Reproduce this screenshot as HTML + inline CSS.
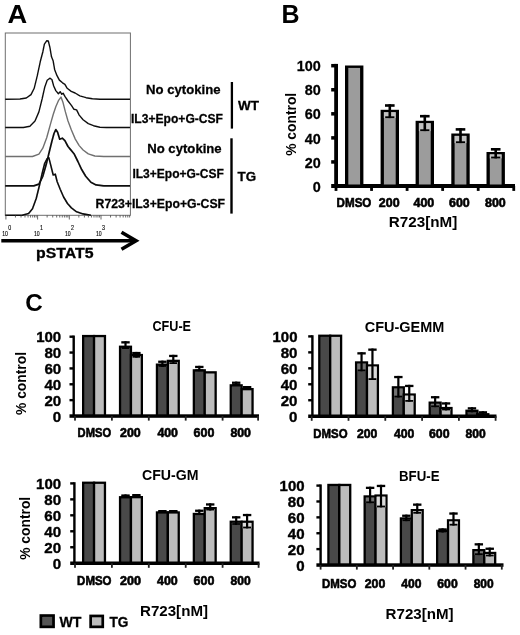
<!DOCTYPE html>
<html><head><meta charset="utf-8"><title>Figure</title>
<style>
html,body{margin:0;padding:0;background:#fff;}
svg{display:block;font-family:"Liberation Sans",sans-serif;}
</style></head><body>
<svg width="520" height="635" viewBox="0 0 520 635">
<defs><filter id="soft" x="0" y="0" width="520" height="635" filterUnits="userSpaceOnUse"><feGaussianBlur stdDeviation="0.42"/></filter></defs>
<rect width="520" height="635" fill="#fff"/>
<g filter="url(#soft)">
<text x="7.6" y="23.2" font-size="25.5" font-weight="bold" fill="#000" textLength="19.7" lengthAdjust="spacingAndGlyphs">A</text>
<text x="281.6" y="23.2" font-size="25" font-weight="bold" fill="#000">B</text>
<text x="25.3" y="310.6" font-size="23" font-weight="bold" fill="#000" textLength="17.5" lengthAdjust="spacingAndGlyphs">C</text>
<rect x="5.3" y="33.0" width="125.10000000000001" height="182.3" fill="none" stroke="#6e6e6e" stroke-width="1"/>
<polyline fill="none" stroke="#111" stroke-width="1.4" stroke-linejoin="round" points="5.2,99.2 20.0,99.0 26.3,98.0 31.0,94.6 34.2,88.3 37.3,75.7 40.5,60.7 42.8,52.0 44.4,44.2 46.8,40.7 48.3,41.0 49.9,47.3 51.5,56.8 53.1,60.7 54.6,69.4 57.0,75.7 59.4,80.1 62.5,82.8 64.9,84.3 67.2,88.3 71.2,91.4 75.1,93.0 79.8,95.8 86.1,97.7 92.4,98.7 100.0,99.2 130.0,99.2"/>
<polyline fill="none" stroke="#111" stroke-width="1.4" stroke-linejoin="round" points="5.2,127.5 23.4,127.5 29.9,126.2 35.0,121.0 38.9,111.9 42.1,99.0 44.7,87.3 47.2,80.3 49.8,78.2 51.9,79.5 53.7,86.0 55.8,90.6 58.4,93.8 60.2,91.7 61.8,94.3 63.1,93.2 64.9,96.4 68.0,101.0 71.4,105.4 74.0,109.3 76.6,109.9 79.2,115.1 83.1,119.7 88.3,123.6 93.5,125.7 99.9,127.3 106.4,127.5 130.0,127.5"/>
<polyline fill="none" stroke="#707070" stroke-width="1.4" stroke-linejoin="round" points="5.2,156.5 32.5,156.5 38.9,154.2 42.8,148.2 46.7,137.8 50.6,123.6 53.2,114.5 55.8,106.7 58.4,100.7 61.0,97.1 63.1,102.8 65.4,111.9 68.0,121.0 71.4,130.0 75.3,139.1 79.2,145.6 83.1,150.0 88.3,153.9 94.8,156.0 103.8,156.5 130.0,156.5"/>
<polyline fill="none" stroke="#0a0a0a" stroke-width="1.7" stroke-linejoin="round" points="5.2,185.9 33.7,185.9 38.9,184.1 42.8,176.3 46.2,164.6 49.3,151.7 51.9,141.3 54.0,133.5 55.8,129.6 57.6,132.2 59.7,139.2 62.3,138.2 64.9,140.7 68.0,146.5 70.6,149.6 74.0,153.7 77.9,161.5 81.8,169.8 85.7,176.3 90.9,182.3 96.1,184.9 103.8,185.9 130.0,185.9"/>
<polyline fill="none" stroke="#0a0a0a" stroke-width="1.6" stroke-linejoin="round" points="5.2,215.2 22.1,215.2 28.6,213.4 32.5,208.7 36.3,198.3 39.5,185.3 42.1,173.7 44.7,163.3 47.2,158.6 48.8,157.6 50.6,164.6 53.2,175.0 55.3,174.2 57.1,181.5 60.2,189.2 63.6,197.0 67.5,203.5 71.4,207.9 76.6,211.8 83.1,213.9 90.9,215.2"/>
<line x1="5.90" y1="215.30" x2="5.90" y2="219.50" stroke="#444" stroke-width="0.8"/>
<line x1="15.44" y1="215.30" x2="15.44" y2="217.50" stroke="#444" stroke-width="0.8"/>
<line x1="21.02" y1="215.30" x2="21.02" y2="217.50" stroke="#444" stroke-width="0.8"/>
<line x1="24.99" y1="215.30" x2="24.99" y2="217.50" stroke="#444" stroke-width="0.8"/>
<line x1="28.06" y1="215.30" x2="28.06" y2="217.50" stroke="#444" stroke-width="0.8"/>
<line x1="30.57" y1="215.30" x2="30.57" y2="217.50" stroke="#444" stroke-width="0.8"/>
<line x1="32.69" y1="215.30" x2="32.69" y2="217.50" stroke="#444" stroke-width="0.8"/>
<line x1="34.53" y1="215.30" x2="34.53" y2="217.50" stroke="#444" stroke-width="0.8"/>
<line x1="36.15" y1="215.30" x2="36.15" y2="217.50" stroke="#444" stroke-width="0.8"/>
<line x1="37.60" y1="215.30" x2="37.60" y2="219.50" stroke="#444" stroke-width="0.8"/>
<line x1="47.14" y1="215.30" x2="47.14" y2="217.50" stroke="#444" stroke-width="0.8"/>
<line x1="52.72" y1="215.30" x2="52.72" y2="217.50" stroke="#444" stroke-width="0.8"/>
<line x1="56.69" y1="215.30" x2="56.69" y2="217.50" stroke="#444" stroke-width="0.8"/>
<line x1="59.76" y1="215.30" x2="59.76" y2="217.50" stroke="#444" stroke-width="0.8"/>
<line x1="62.27" y1="215.30" x2="62.27" y2="217.50" stroke="#444" stroke-width="0.8"/>
<line x1="64.39" y1="215.30" x2="64.39" y2="217.50" stroke="#444" stroke-width="0.8"/>
<line x1="66.23" y1="215.30" x2="66.23" y2="217.50" stroke="#444" stroke-width="0.8"/>
<line x1="67.85" y1="215.30" x2="67.85" y2="217.50" stroke="#444" stroke-width="0.8"/>
<line x1="69.30" y1="215.30" x2="69.30" y2="219.50" stroke="#444" stroke-width="0.8"/>
<line x1="78.84" y1="215.30" x2="78.84" y2="217.50" stroke="#444" stroke-width="0.8"/>
<line x1="84.42" y1="215.30" x2="84.42" y2="217.50" stroke="#444" stroke-width="0.8"/>
<line x1="88.39" y1="215.30" x2="88.39" y2="217.50" stroke="#444" stroke-width="0.8"/>
<line x1="91.46" y1="215.30" x2="91.46" y2="217.50" stroke="#444" stroke-width="0.8"/>
<line x1="93.97" y1="215.30" x2="93.97" y2="217.50" stroke="#444" stroke-width="0.8"/>
<line x1="96.09" y1="215.30" x2="96.09" y2="217.50" stroke="#444" stroke-width="0.8"/>
<line x1="97.93" y1="215.30" x2="97.93" y2="217.50" stroke="#444" stroke-width="0.8"/>
<line x1="99.55" y1="215.30" x2="99.55" y2="217.50" stroke="#444" stroke-width="0.8"/>
<line x1="101.00" y1="215.30" x2="101.00" y2="219.50" stroke="#444" stroke-width="0.8"/>
<line x1="110.54" y1="215.30" x2="110.54" y2="217.50" stroke="#444" stroke-width="0.8"/>
<line x1="116.12" y1="215.30" x2="116.12" y2="217.50" stroke="#444" stroke-width="0.8"/>
<line x1="120.09" y1="215.30" x2="120.09" y2="217.50" stroke="#444" stroke-width="0.8"/>
<line x1="123.16" y1="215.30" x2="123.16" y2="217.50" stroke="#444" stroke-width="0.8"/>
<line x1="125.67" y1="215.30" x2="125.67" y2="217.50" stroke="#444" stroke-width="0.8"/>
<line x1="127.79" y1="215.30" x2="127.79" y2="217.50" stroke="#444" stroke-width="0.8"/>
<line x1="129.63" y1="215.30" x2="129.63" y2="217.50" stroke="#444" stroke-width="0.8"/>
<text transform="translate(2.2,235.5) scale(0.74,1)" font-size="7" font-weight="normal" fill="#000" stroke="#000" stroke-width="0.15">10</text>
<text transform="translate(8.2,229.9) scale(0.74,1)" font-size="7.2" font-weight="normal" fill="#000" stroke="#000" stroke-width="0.15">0</text>
<text transform="translate(33.9,235.5) scale(0.74,1)" font-size="7" font-weight="normal" fill="#000" stroke="#000" stroke-width="0.15">10</text>
<text transform="translate(39.9,229.9) scale(0.74,1)" font-size="7.2" font-weight="normal" fill="#000" stroke="#000" stroke-width="0.15">1</text>
<text transform="translate(65.0,235.5) scale(0.74,1)" font-size="7" font-weight="normal" fill="#000" stroke="#000" stroke-width="0.15">10</text>
<text transform="translate(71.0,229.9) scale(0.74,1)" font-size="7.2" font-weight="normal" fill="#000" stroke="#000" stroke-width="0.15">2</text>
<text transform="translate(96.0,235.5) scale(0.74,1)" font-size="7" font-weight="normal" fill="#000" stroke="#000" stroke-width="0.15">10</text>
<text transform="translate(102.0,229.9) scale(0.74,1)" font-size="7.2" font-weight="normal" fill="#000" stroke="#000" stroke-width="0.15">3</text>
<line x1="1.30" y1="240.80" x2="134.50" y2="240.80" stroke="#000" stroke-width="3.4"/>
<polyline fill="none" stroke="#000" stroke-width="3.6" stroke-linejoin="miter" points="121.5,232.3 136,240.8 121.5,249.3"/>
<text x="36.0" y="257.5" font-size="14.5" font-weight="bold" fill="#000" textLength="57.5" lengthAdjust="spacingAndGlyphs" stroke="#000" stroke-width="0.3">pSTAT5</text>
<text x="146.0" y="94.3" font-size="13.5" font-weight="bold" fill="#000" textLength="74.5" lengthAdjust="spacingAndGlyphs" stroke="#000" stroke-width="0.3">No cytokine</text>
<text x="131.0" y="123.1" font-size="13.5" font-weight="bold" fill="#000" textLength="92.0" lengthAdjust="spacingAndGlyphs" stroke="#000" stroke-width="0.3">IL3+Epo+G-CSF</text>
<text x="147.2" y="152.5" font-size="13.5" font-weight="bold" fill="#000" textLength="74.5" lengthAdjust="spacingAndGlyphs" stroke="#000" stroke-width="0.3">No cytokine</text>
<text x="132.4" y="178.4" font-size="13.5" font-weight="bold" fill="#000" textLength="91.5" lengthAdjust="spacingAndGlyphs" stroke="#000" stroke-width="0.3">IL3+Epo+G-CSF</text>
<text x="95.6" y="208.2" font-size="13.5" font-weight="bold" fill="#000" textLength="129.5" lengthAdjust="spacingAndGlyphs" stroke="#000" stroke-width="0.3">R723+IL3+Epo+G-CSF</text>
<line x1="231.90" y1="82.00" x2="231.90" y2="128.60" stroke="#000" stroke-width="2.3"/>
<line x1="231.50" y1="138.30" x2="231.50" y2="213.60" stroke="#000" stroke-width="2.4"/>
<text x="238.1" y="110.0" font-size="13.5" font-weight="bold" fill="#000" textLength="21.0" lengthAdjust="spacingAndGlyphs" stroke="#000" stroke-width="0.3">WT</text>
<text x="237.5" y="180.7" font-size="13.5" font-weight="bold" fill="#000" textLength="18.6" lengthAdjust="spacingAndGlyphs" stroke="#000" stroke-width="0.3">TG</text>
<rect x="334.20" y="63.90" width="3.80" height="123.90" fill="#000"/>
<rect x="331.20" y="184.00" width="183.80" height="4.00" fill="#000"/>
<text x="312.8" y="191.6" font-size="15.5" font-weight="bold" fill="#000" textLength="8.0" lengthAdjust="spacingAndGlyphs" stroke="#000" stroke-width="0.3">0</text>
<rect x="331.20" y="160.19" width="5.00" height="3.50" fill="#000"/>
<text x="304.8" y="167.5" font-size="15.5" font-weight="bold" fill="#000" textLength="16.0" lengthAdjust="spacingAndGlyphs" stroke="#000" stroke-width="0.3">20</text>
<rect x="331.20" y="136.13" width="5.00" height="3.50" fill="#000"/>
<text x="304.8" y="143.5" font-size="15.5" font-weight="bold" fill="#000" textLength="16.0" lengthAdjust="spacingAndGlyphs" stroke="#000" stroke-width="0.3">40</text>
<rect x="331.20" y="112.07" width="5.00" height="3.50" fill="#000"/>
<text x="304.8" y="119.4" font-size="15.5" font-weight="bold" fill="#000" textLength="16.0" lengthAdjust="spacingAndGlyphs" stroke="#000" stroke-width="0.3">60</text>
<rect x="331.20" y="88.01" width="5.00" height="3.50" fill="#000"/>
<text x="304.8" y="95.4" font-size="15.5" font-weight="bold" fill="#000" textLength="16.0" lengthAdjust="spacingAndGlyphs" stroke="#000" stroke-width="0.3">80</text>
<rect x="331.20" y="63.95" width="5.00" height="3.50" fill="#000"/>
<text x="296.8" y="71.3" font-size="15.5" font-weight="bold" fill="#000" textLength="24.0" lengthAdjust="spacingAndGlyphs" stroke="#000" stroke-width="0.3">100</text>
<rect x="334.60" y="186.00" width="2.80" height="4.90" fill="#000"/>
<rect x="370.15" y="186.00" width="2.80" height="4.90" fill="#000"/>
<rect x="405.70" y="186.00" width="2.80" height="4.90" fill="#000"/>
<rect x="441.25" y="186.00" width="2.80" height="4.90" fill="#000"/>
<rect x="476.80" y="186.00" width="2.80" height="4.90" fill="#000"/>
<rect x="512.35" y="186.00" width="2.80" height="4.90" fill="#000"/>
<rect x="345.00" y="65.50" width="18.40" height="120.50" fill="#000"/>
<rect x="348.30" y="67.90" width="11.80" height="116.60" fill="#9c9c9c"/>
<rect x="380.60" y="109.80" width="18.40" height="76.20" fill="#000"/>
<rect x="383.90" y="112.20" width="11.80" height="72.30" fill="#9c9c9c"/>
<rect x="383.90" y="112.20" width="11.80" height="5.90" fill="#c2c2c2"/>
<rect x="388.50" y="104.20" width="2.60" height="13.90" fill="#000"/>
<rect x="385.00" y="104.20" width="9.60" height="2.60" fill="#000"/>
<rect x="385.20" y="116.30" width="9.20" height="1.80" fill="#000"/>
<rect x="415.60" y="120.80" width="18.40" height="65.20" fill="#000"/>
<rect x="418.90" y="123.20" width="11.80" height="61.30" fill="#9c9c9c"/>
<rect x="418.90" y="123.20" width="11.80" height="7.90" fill="#c2c2c2"/>
<rect x="423.50" y="114.90" width="2.60" height="16.20" fill="#000"/>
<rect x="420.00" y="114.90" width="9.60" height="2.60" fill="#000"/>
<rect x="420.20" y="129.30" width="9.20" height="1.80" fill="#000"/>
<rect x="451.30" y="133.50" width="18.40" height="52.50" fill="#000"/>
<rect x="454.60" y="135.90" width="11.80" height="48.60" fill="#9c9c9c"/>
<rect x="454.60" y="135.90" width="11.80" height="7.20" fill="#c2c2c2"/>
<rect x="459.20" y="128.10" width="2.60" height="15.00" fill="#000"/>
<rect x="455.70" y="128.10" width="9.60" height="2.60" fill="#000"/>
<rect x="455.90" y="141.30" width="9.20" height="1.80" fill="#000"/>
<rect x="486.50" y="152.00" width="18.40" height="34.00" fill="#000"/>
<rect x="489.80" y="154.40" width="11.80" height="30.10" fill="#9c9c9c"/>
<rect x="489.80" y="154.40" width="11.80" height="4.00" fill="#c2c2c2"/>
<rect x="494.40" y="148.00" width="2.60" height="10.40" fill="#000"/>
<rect x="490.90" y="148.00" width="9.60" height="2.60" fill="#000"/>
<rect x="491.10" y="156.60" width="9.20" height="1.80" fill="#000"/>
<text x="336.6" y="207.3" font-size="12.5" font-weight="bold" fill="#000" textLength="34.8" lengthAdjust="spacingAndGlyphs" stroke="#000" stroke-width="0.6">DMSO</text>
<text x="378.8" y="207.3" font-size="12.5" font-weight="bold" fill="#000" textLength="20.8" lengthAdjust="spacingAndGlyphs" stroke="#000" stroke-width="0.6">200</text>
<text x="413.5" y="207.3" font-size="12.5" font-weight="bold" fill="#000" textLength="20.8" lengthAdjust="spacingAndGlyphs" stroke="#000" stroke-width="0.6">400</text>
<text x="449.0" y="207.3" font-size="12.5" font-weight="bold" fill="#000" textLength="20.8" lengthAdjust="spacingAndGlyphs" stroke="#000" stroke-width="0.6">600</text>
<text x="485.0" y="207.3" font-size="12.5" font-weight="bold" fill="#000" textLength="20.8" lengthAdjust="spacingAndGlyphs" stroke="#000" stroke-width="0.6">800</text>
<text x="388.8" y="227.2" font-size="14" font-weight="bold" fill="#000" textLength="68.5" lengthAdjust="spacingAndGlyphs">R723[nM]</text>
<text x="296.2" y="155.8" font-size="14" font-weight="bold" fill="#000" textLength="63.0" lengthAdjust="spacingAndGlyphs" transform="rotate(-90 296.2 155.8)">% control</text>
<rect x="82.00" y="334.90" width="13.20" height="81.10" fill="#000"/>
<rect x="84.30" y="337.20" width="8.60" height="77.80" fill="#4a4a4a"/>
<rect x="92.90" y="334.90" width="13.20" height="81.10" fill="#000"/>
<rect x="95.20" y="337.20" width="8.60" height="77.80" fill="#bcbcbc"/>
<rect x="118.90" y="345.60" width="13.20" height="70.40" fill="#000"/>
<rect x="121.20" y="347.90" width="8.60" height="67.10" fill="#4a4a4a"/>
<rect x="121.20" y="347.90" width="8.60" height="1.10" fill="#737373"/>
<rect x="124.40" y="341.20" width="2.20" height="7.80" fill="#000"/>
<rect x="121.30" y="341.20" width="8.40" height="2.30" fill="#000"/>
<rect x="121.50" y="347.20" width="8.00" height="1.80" fill="#000"/>
<rect x="129.80" y="353.90" width="13.20" height="62.10" fill="#000"/>
<rect x="132.10" y="356.20" width="8.60" height="58.80" fill="#bcbcbc"/>
<rect x="132.10" y="356.20" width="8.60" height="1.50" fill="#dadada"/>
<rect x="135.30" y="351.90" width="2.20" height="5.80" fill="#000"/>
<rect x="132.20" y="351.90" width="8.40" height="2.30" fill="#000"/>
<rect x="132.40" y="355.90" width="8.00" height="1.80" fill="#000"/>
<rect x="155.80" y="363.50" width="13.20" height="52.50" fill="#000"/>
<rect x="158.10" y="365.80" width="8.60" height="49.20" fill="#4a4a4a"/>
<rect x="158.10" y="365.80" width="8.60" height="1.10" fill="#737373"/>
<rect x="161.30" y="360.60" width="2.20" height="6.30" fill="#000"/>
<rect x="158.20" y="360.60" width="8.40" height="2.30" fill="#000"/>
<rect x="158.40" y="365.10" width="8.00" height="1.80" fill="#000"/>
<rect x="166.70" y="359.70" width="13.20" height="56.30" fill="#000"/>
<rect x="169.00" y="362.00" width="8.60" height="53.00" fill="#bcbcbc"/>
<rect x="169.00" y="362.00" width="8.60" height="2.00" fill="#dadada"/>
<rect x="172.20" y="354.80" width="2.20" height="9.20" fill="#000"/>
<rect x="169.10" y="354.80" width="8.40" height="2.30" fill="#000"/>
<rect x="169.30" y="362.20" width="8.00" height="1.80" fill="#000"/>
<rect x="192.70" y="369.20" width="13.20" height="46.80" fill="#000"/>
<rect x="195.00" y="371.50" width="8.60" height="43.50" fill="#4a4a4a"/>
<rect x="198.20" y="365.80" width="2.20" height="5.40" fill="#000"/>
<rect x="195.10" y="365.80" width="8.40" height="2.30" fill="#000"/>
<rect x="195.30" y="369.40" width="8.00" height="1.80" fill="#000"/>
<rect x="203.60" y="371.20" width="13.20" height="44.80" fill="#000"/>
<rect x="205.90" y="373.50" width="8.60" height="41.50" fill="#bcbcbc"/>
<rect x="229.60" y="384.20" width="13.20" height="31.80" fill="#000"/>
<rect x="231.90" y="386.50" width="8.60" height="28.50" fill="#4a4a4a"/>
<rect x="235.10" y="381.60" width="2.20" height="4.10" fill="#000"/>
<rect x="232.00" y="381.60" width="8.40" height="2.30" fill="#000"/>
<rect x="232.20" y="383.90" width="8.00" height="1.80" fill="#000"/>
<rect x="240.50" y="388.00" width="13.20" height="28.00" fill="#000"/>
<rect x="242.80" y="390.30" width="8.60" height="24.70" fill="#bcbcbc"/>
<rect x="246.00" y="386.00" width="2.20" height="4.00" fill="#000"/>
<rect x="242.90" y="386.00" width="8.40" height="2.30" fill="#000"/>
<rect x="243.10" y="388.20" width="8.00" height="1.80" fill="#000"/>
<rect x="72.50" y="335.50" width="2.40" height="81.70" fill="#000"/>
<rect x="69.50" y="414.30" width="189.50" height="3.50" fill="#000"/>
<text x="52.8" y="421.5" font-size="15.5" font-weight="bold" fill="#000" textLength="8.4" lengthAdjust="spacingAndGlyphs" stroke="#000" stroke-width="0.4">0</text>
<rect x="69.50" y="398.94" width="4.00" height="2.40" fill="#000"/>
<text x="44.4" y="405.6" font-size="15.5" font-weight="bold" fill="#000" textLength="16.8" lengthAdjust="spacingAndGlyphs" stroke="#000" stroke-width="0.4">20</text>
<rect x="69.50" y="383.08" width="4.00" height="2.40" fill="#000"/>
<text x="44.4" y="389.8" font-size="15.5" font-weight="bold" fill="#000" textLength="16.8" lengthAdjust="spacingAndGlyphs" stroke="#000" stroke-width="0.4">40</text>
<rect x="69.50" y="367.22" width="4.00" height="2.40" fill="#000"/>
<text x="44.4" y="373.9" font-size="15.5" font-weight="bold" fill="#000" textLength="16.8" lengthAdjust="spacingAndGlyphs" stroke="#000" stroke-width="0.4">60</text>
<rect x="69.50" y="351.36" width="4.00" height="2.40" fill="#000"/>
<text x="44.4" y="358.1" font-size="15.5" font-weight="bold" fill="#000" textLength="16.8" lengthAdjust="spacingAndGlyphs" stroke="#000" stroke-width="0.4">80</text>
<rect x="69.50" y="335.50" width="4.00" height="2.40" fill="#000"/>
<text x="36.2" y="342.2" font-size="15.5" font-weight="bold" fill="#000" textLength="25.0" lengthAdjust="spacingAndGlyphs" stroke="#000" stroke-width="0.4">100</text>
<rect x="74.10" y="416.00" width="1.80" height="4.60" fill="#222"/>
<rect x="111.00" y="416.00" width="1.80" height="4.60" fill="#222"/>
<rect x="147.90" y="416.00" width="1.80" height="4.60" fill="#222"/>
<rect x="184.80" y="416.00" width="1.80" height="4.60" fill="#222"/>
<rect x="221.70" y="416.00" width="1.80" height="4.60" fill="#222"/>
<rect x="257.20" y="416.00" width="1.80" height="4.60" fill="#222"/>
<text x="77.6" y="437.3" font-size="12.5" font-weight="bold" fill="#000" textLength="33.5" lengthAdjust="spacingAndGlyphs" stroke="#000" stroke-width="0.6">DMSO</text>
<text x="120.0" y="437.3" font-size="12.5" font-weight="bold" fill="#000" textLength="20.8" lengthAdjust="spacingAndGlyphs" stroke="#000" stroke-width="0.6">200</text>
<text x="157.4" y="437.3" font-size="12.5" font-weight="bold" fill="#000" textLength="20.6" lengthAdjust="spacingAndGlyphs" stroke="#000" stroke-width="0.6">400</text>
<text x="193.6" y="437.3" font-size="12.5" font-weight="bold" fill="#000" textLength="20.8" lengthAdjust="spacingAndGlyphs" stroke="#000" stroke-width="0.6">600</text>
<text x="230.4" y="437.3" font-size="12.5" font-weight="bold" fill="#000" textLength="20.6" lengthAdjust="spacingAndGlyphs" stroke="#000" stroke-width="0.6">800</text>
<text x="152.5" y="331.1" font-size="14.5" font-weight="bold" fill="#000" textLength="38.5" lengthAdjust="spacingAndGlyphs">CFU-E</text>
<text x="26.0" y="415.0" font-size="14" font-weight="bold" fill="#000" textLength="63.0" lengthAdjust="spacingAndGlyphs" transform="rotate(-90 26.0 415.0)">% control</text>
<rect x="318.15" y="334.60" width="13.20" height="81.60" fill="#000"/>
<rect x="320.45" y="336.90" width="8.60" height="78.30" fill="#4a4a4a"/>
<rect x="329.05" y="334.60" width="13.20" height="81.60" fill="#000"/>
<rect x="331.35" y="336.90" width="8.60" height="78.30" fill="#bcbcbc"/>
<rect x="354.95" y="361.30" width="13.20" height="54.90" fill="#000"/>
<rect x="357.25" y="363.60" width="8.60" height="51.60" fill="#4a4a4a"/>
<rect x="357.25" y="363.60" width="8.60" height="7.70" fill="#737373"/>
<rect x="360.45" y="352.20" width="2.20" height="19.10" fill="#000"/>
<rect x="357.35" y="352.20" width="8.40" height="2.30" fill="#000"/>
<rect x="357.55" y="369.50" width="8.00" height="1.80" fill="#000"/>
<rect x="365.85" y="364.30" width="13.20" height="51.90" fill="#000"/>
<rect x="368.15" y="366.60" width="8.60" height="48.60" fill="#bcbcbc"/>
<rect x="368.15" y="366.60" width="8.60" height="13.40" fill="#dadada"/>
<rect x="371.35" y="348.50" width="2.20" height="31.50" fill="#000"/>
<rect x="368.25" y="348.50" width="8.40" height="2.30" fill="#000"/>
<rect x="368.45" y="378.20" width="8.00" height="1.80" fill="#000"/>
<rect x="391.75" y="386.20" width="13.20" height="30.00" fill="#000"/>
<rect x="394.05" y="388.50" width="8.60" height="26.70" fill="#4a4a4a"/>
<rect x="394.05" y="388.50" width="8.60" height="9.00" fill="#737373"/>
<rect x="397.25" y="375.90" width="2.20" height="21.60" fill="#000"/>
<rect x="394.15" y="375.90" width="8.40" height="2.30" fill="#000"/>
<rect x="394.35" y="395.70" width="8.00" height="1.80" fill="#000"/>
<rect x="402.65" y="393.40" width="13.20" height="22.80" fill="#000"/>
<rect x="404.95" y="395.70" width="8.60" height="19.50" fill="#bcbcbc"/>
<rect x="404.95" y="395.70" width="8.60" height="6.10" fill="#dadada"/>
<rect x="408.15" y="384.80" width="2.20" height="17.00" fill="#000"/>
<rect x="405.05" y="384.80" width="8.40" height="2.30" fill="#000"/>
<rect x="405.25" y="400.00" width="8.00" height="1.80" fill="#000"/>
<rect x="428.55" y="401.50" width="13.20" height="14.70" fill="#000"/>
<rect x="430.85" y="403.80" width="8.60" height="11.40" fill="#4a4a4a"/>
<rect x="430.85" y="403.80" width="8.60" height="3.40" fill="#737373"/>
<rect x="434.05" y="396.10" width="2.20" height="11.10" fill="#000"/>
<rect x="430.95" y="396.10" width="8.40" height="2.30" fill="#000"/>
<rect x="431.15" y="405.40" width="8.00" height="1.80" fill="#000"/>
<rect x="439.45" y="406.90" width="13.20" height="9.30" fill="#000"/>
<rect x="441.75" y="409.20" width="8.60" height="6.00" fill="#bcbcbc"/>
<rect x="441.75" y="409.20" width="8.60" height="1.20" fill="#dadada"/>
<rect x="444.95" y="402.30" width="2.20" height="8.10" fill="#000"/>
<rect x="441.85" y="402.30" width="8.40" height="2.30" fill="#000"/>
<rect x="442.05" y="408.60" width="8.00" height="1.80" fill="#000"/>
<rect x="465.35" y="409.60" width="13.20" height="6.60" fill="#000"/>
<rect x="467.65" y="411.90" width="8.60" height="3.30" fill="#4a4a4a"/>
<rect x="467.65" y="411.90" width="8.60" height="0.40" fill="#737373"/>
<rect x="470.85" y="407.20" width="2.20" height="5.10" fill="#000"/>
<rect x="467.75" y="407.20" width="8.40" height="2.30" fill="#000"/>
<rect x="467.95" y="410.50" width="8.00" height="1.80" fill="#000"/>
<rect x="476.25" y="413.10" width="13.20" height="3.10" fill="#000"/>
<rect x="478.55" y="415.40" width="8.60" height="0.10" fill="#dadada"/>
<rect x="481.75" y="411.20" width="2.20" height="4.30" fill="#000"/>
<rect x="478.65" y="411.20" width="8.40" height="2.30" fill="#000"/>
<rect x="478.85" y="413.70" width="8.00" height="1.80" fill="#000"/>
<rect x="311.20" y="335.20" width="2.40" height="82.20" fill="#000"/>
<rect x="308.20" y="414.50" width="188.30" height="3.50" fill="#000"/>
<text x="289.1" y="421.7" font-size="15.5" font-weight="bold" fill="#000" textLength="8.4" lengthAdjust="spacingAndGlyphs" stroke="#000" stroke-width="0.4">0</text>
<rect x="308.20" y="399.04" width="4.00" height="2.40" fill="#000"/>
<text x="280.7" y="405.7" font-size="15.5" font-weight="bold" fill="#000" textLength="16.8" lengthAdjust="spacingAndGlyphs" stroke="#000" stroke-width="0.4">20</text>
<rect x="308.20" y="383.08" width="4.00" height="2.40" fill="#000"/>
<text x="280.7" y="389.8" font-size="15.5" font-weight="bold" fill="#000" textLength="16.8" lengthAdjust="spacingAndGlyphs" stroke="#000" stroke-width="0.4">40</text>
<rect x="308.20" y="367.12" width="4.00" height="2.40" fill="#000"/>
<text x="280.7" y="373.8" font-size="15.5" font-weight="bold" fill="#000" textLength="16.8" lengthAdjust="spacingAndGlyphs" stroke="#000" stroke-width="0.4">60</text>
<rect x="308.20" y="351.16" width="4.00" height="2.40" fill="#000"/>
<text x="280.7" y="357.9" font-size="15.5" font-weight="bold" fill="#000" textLength="16.8" lengthAdjust="spacingAndGlyphs" stroke="#000" stroke-width="0.4">80</text>
<rect x="308.20" y="335.20" width="4.00" height="2.40" fill="#000"/>
<text x="272.5" y="341.9" font-size="15.5" font-weight="bold" fill="#000" textLength="25.0" lengthAdjust="spacingAndGlyphs" stroke="#000" stroke-width="0.4">100</text>
<rect x="310.80" y="416.20" width="1.80" height="4.60" fill="#222"/>
<rect x="347.60" y="416.20" width="1.80" height="4.60" fill="#222"/>
<rect x="384.40" y="416.20" width="1.80" height="4.60" fill="#222"/>
<rect x="421.20" y="416.20" width="1.80" height="4.60" fill="#222"/>
<rect x="458.00" y="416.20" width="1.80" height="4.60" fill="#222"/>
<rect x="494.70" y="416.20" width="1.80" height="4.60" fill="#222"/>
<text x="313.3" y="437.7" font-size="12.5" font-weight="bold" fill="#000" textLength="34.2" lengthAdjust="spacingAndGlyphs" stroke="#000" stroke-width="0.6">DMSO</text>
<text x="357.0" y="437.7" font-size="12.5" font-weight="bold" fill="#000" textLength="20.4" lengthAdjust="spacingAndGlyphs" stroke="#000" stroke-width="0.6">200</text>
<text x="394.0" y="437.7" font-size="12.5" font-weight="bold" fill="#000" textLength="20.4" lengthAdjust="spacingAndGlyphs" stroke="#000" stroke-width="0.6">400</text>
<text x="429.0" y="437.7" font-size="12.5" font-weight="bold" fill="#000" textLength="20.6" lengthAdjust="spacingAndGlyphs" stroke="#000" stroke-width="0.6">600</text>
<text x="465.5" y="437.7" font-size="12.5" font-weight="bold" fill="#000" textLength="20.2" lengthAdjust="spacingAndGlyphs" stroke="#000" stroke-width="0.6">800</text>
<text x="364.8" y="331.8" font-size="14.5" font-weight="bold" fill="#000" textLength="79.5" lengthAdjust="spacingAndGlyphs">CFU-GEMM</text>
<rect x="82.00" y="481.60" width="13.20" height="81.60" fill="#000"/>
<rect x="84.30" y="483.90" width="8.60" height="78.30" fill="#4a4a4a"/>
<rect x="92.90" y="481.60" width="13.20" height="81.60" fill="#000"/>
<rect x="95.20" y="483.90" width="8.60" height="78.30" fill="#bcbcbc"/>
<rect x="118.90" y="496.10" width="13.20" height="67.10" fill="#000"/>
<rect x="121.20" y="498.40" width="8.60" height="63.80" fill="#4a4a4a"/>
<rect x="124.40" y="494.40" width="2.20" height="3.00" fill="#000"/>
<rect x="121.30" y="494.40" width="8.40" height="2.30" fill="#000"/>
<rect x="121.50" y="495.60" width="8.00" height="1.80" fill="#000"/>
<rect x="129.80" y="496.00" width="13.20" height="67.20" fill="#000"/>
<rect x="132.10" y="498.30" width="8.60" height="63.90" fill="#bcbcbc"/>
<rect x="135.30" y="494.00" width="2.20" height="3.40" fill="#000"/>
<rect x="132.20" y="494.00" width="8.40" height="2.30" fill="#000"/>
<rect x="132.40" y="495.60" width="8.00" height="1.80" fill="#000"/>
<rect x="155.80" y="511.30" width="13.20" height="51.90" fill="#000"/>
<rect x="158.10" y="513.60" width="8.60" height="48.60" fill="#4a4a4a"/>
<rect x="161.30" y="510.00" width="2.20" height="2.60" fill="#000"/>
<rect x="158.20" y="510.00" width="8.40" height="2.30" fill="#000"/>
<rect x="158.40" y="510.80" width="8.00" height="1.80" fill="#000"/>
<rect x="166.70" y="511.30" width="13.20" height="51.90" fill="#000"/>
<rect x="169.00" y="513.60" width="8.60" height="48.60" fill="#bcbcbc"/>
<rect x="172.20" y="510.00" width="2.20" height="2.60" fill="#000"/>
<rect x="169.10" y="510.00" width="8.40" height="2.30" fill="#000"/>
<rect x="169.30" y="510.80" width="8.00" height="1.80" fill="#000"/>
<rect x="192.70" y="512.80" width="13.20" height="50.40" fill="#000"/>
<rect x="195.00" y="515.10" width="8.60" height="47.10" fill="#4a4a4a"/>
<rect x="198.20" y="509.60" width="2.20" height="5.20" fill="#000"/>
<rect x="195.10" y="509.60" width="8.40" height="2.30" fill="#000"/>
<rect x="195.30" y="513.00" width="8.00" height="1.80" fill="#000"/>
<rect x="203.60" y="507.00" width="13.20" height="56.20" fill="#000"/>
<rect x="205.90" y="509.30" width="8.60" height="52.90" fill="#bcbcbc"/>
<rect x="205.90" y="509.30" width="8.60" height="1.20" fill="#dadada"/>
<rect x="209.10" y="503.30" width="2.20" height="7.20" fill="#000"/>
<rect x="206.00" y="503.30" width="8.40" height="2.30" fill="#000"/>
<rect x="206.20" y="508.70" width="8.00" height="1.80" fill="#000"/>
<rect x="229.60" y="520.60" width="13.20" height="42.60" fill="#000"/>
<rect x="231.90" y="522.90" width="8.60" height="39.30" fill="#4a4a4a"/>
<rect x="231.90" y="522.90" width="8.60" height="2.00" fill="#737373"/>
<rect x="235.10" y="516.20" width="2.20" height="8.70" fill="#000"/>
<rect x="232.00" y="516.20" width="8.40" height="2.30" fill="#000"/>
<rect x="232.20" y="523.10" width="8.00" height="1.80" fill="#000"/>
<rect x="240.50" y="520.60" width="13.20" height="42.60" fill="#000"/>
<rect x="242.80" y="522.90" width="8.60" height="39.30" fill="#bcbcbc"/>
<rect x="242.80" y="522.90" width="8.60" height="5.50" fill="#dadada"/>
<rect x="246.00" y="513.90" width="2.20" height="14.50" fill="#000"/>
<rect x="242.90" y="513.90" width="8.40" height="2.30" fill="#000"/>
<rect x="243.10" y="526.60" width="8.00" height="1.80" fill="#000"/>
<rect x="73.20" y="482.20" width="2.40" height="82.20" fill="#000"/>
<rect x="70.20" y="561.50" width="189.30" height="3.50" fill="#000"/>
<text x="52.7" y="568.7" font-size="15.5" font-weight="bold" fill="#000" textLength="8.4" lengthAdjust="spacingAndGlyphs" stroke="#000" stroke-width="0.4">0</text>
<rect x="70.20" y="546.04" width="4.00" height="2.40" fill="#000"/>
<text x="44.3" y="552.7" font-size="15.5" font-weight="bold" fill="#000" textLength="16.8" lengthAdjust="spacingAndGlyphs" stroke="#000" stroke-width="0.4">20</text>
<rect x="70.20" y="530.08" width="4.00" height="2.40" fill="#000"/>
<text x="44.3" y="536.8" font-size="15.5" font-weight="bold" fill="#000" textLength="16.8" lengthAdjust="spacingAndGlyphs" stroke="#000" stroke-width="0.4">40</text>
<rect x="70.20" y="514.12" width="4.00" height="2.40" fill="#000"/>
<text x="44.3" y="520.8" font-size="15.5" font-weight="bold" fill="#000" textLength="16.8" lengthAdjust="spacingAndGlyphs" stroke="#000" stroke-width="0.4">60</text>
<rect x="70.20" y="498.16" width="4.00" height="2.40" fill="#000"/>
<text x="44.3" y="504.9" font-size="15.5" font-weight="bold" fill="#000" textLength="16.8" lengthAdjust="spacingAndGlyphs" stroke="#000" stroke-width="0.4">80</text>
<rect x="70.20" y="482.20" width="4.00" height="2.40" fill="#000"/>
<text x="36.1" y="488.9" font-size="15.5" font-weight="bold" fill="#000" textLength="25.0" lengthAdjust="spacingAndGlyphs" stroke="#000" stroke-width="0.4">100</text>
<rect x="74.10" y="563.20" width="1.80" height="4.60" fill="#222"/>
<rect x="111.00" y="563.20" width="1.80" height="4.60" fill="#222"/>
<rect x="147.90" y="563.20" width="1.80" height="4.60" fill="#222"/>
<rect x="184.80" y="563.20" width="1.80" height="4.60" fill="#222"/>
<rect x="221.70" y="563.20" width="1.80" height="4.60" fill="#222"/>
<rect x="257.70" y="563.20" width="1.80" height="4.60" fill="#222"/>
<text x="77.1" y="585.0" font-size="12.5" font-weight="bold" fill="#000" textLength="34.4" lengthAdjust="spacingAndGlyphs" stroke="#000" stroke-width="0.6">DMSO</text>
<text x="120.1" y="585.0" font-size="12.5" font-weight="bold" fill="#000" textLength="21.0" lengthAdjust="spacingAndGlyphs" stroke="#000" stroke-width="0.6">200</text>
<text x="157.0" y="585.0" font-size="12.5" font-weight="bold" fill="#000" textLength="20.8" lengthAdjust="spacingAndGlyphs" stroke="#000" stroke-width="0.6">400</text>
<text x="193.6" y="585.0" font-size="12.5" font-weight="bold" fill="#000" textLength="20.8" lengthAdjust="spacingAndGlyphs" stroke="#000" stroke-width="0.6">600</text>
<text x="230.6" y="585.0" font-size="12.5" font-weight="bold" fill="#000" textLength="20.2" lengthAdjust="spacingAndGlyphs" stroke="#000" stroke-width="0.6">800</text>
<text x="142.0" y="479.5" font-size="14.5" font-weight="bold" fill="#000" textLength="56.5" lengthAdjust="spacingAndGlyphs">CFU-GM</text>
<text x="29.8" y="559.8" font-size="14" font-weight="bold" fill="#000" textLength="63.0" lengthAdjust="spacingAndGlyphs" transform="rotate(-90 29.8 559.8)">% control</text>
<rect x="327.27" y="483.80" width="13.20" height="81.20" fill="#000"/>
<rect x="329.57" y="486.10" width="8.60" height="77.90" fill="#4a4a4a"/>
<rect x="338.17" y="483.80" width="13.20" height="81.20" fill="#000"/>
<rect x="340.47" y="486.10" width="8.60" height="77.90" fill="#bcbcbc"/>
<rect x="363.51" y="495.30" width="13.20" height="69.70" fill="#000"/>
<rect x="365.81" y="497.60" width="8.60" height="66.40" fill="#4a4a4a"/>
<rect x="365.81" y="497.60" width="8.60" height="5.60" fill="#737373"/>
<rect x="369.01" y="486.70" width="2.20" height="16.50" fill="#000"/>
<rect x="365.91" y="486.70" width="8.40" height="2.30" fill="#000"/>
<rect x="366.11" y="501.40" width="8.00" height="1.80" fill="#000"/>
<rect x="374.41" y="494.40" width="13.20" height="70.60" fill="#000"/>
<rect x="376.71" y="496.70" width="8.60" height="67.30" fill="#bcbcbc"/>
<rect x="376.71" y="496.70" width="8.60" height="10.70" fill="#dadada"/>
<rect x="379.91" y="484.80" width="2.20" height="22.60" fill="#000"/>
<rect x="376.81" y="484.80" width="8.40" height="2.30" fill="#000"/>
<rect x="377.01" y="505.60" width="8.00" height="1.80" fill="#000"/>
<rect x="399.75" y="517.30" width="13.20" height="47.70" fill="#000"/>
<rect x="402.05" y="519.60" width="8.60" height="44.40" fill="#4a4a4a"/>
<rect x="402.05" y="519.60" width="8.60" height="1.60" fill="#737373"/>
<rect x="405.25" y="514.60" width="2.20" height="6.60" fill="#000"/>
<rect x="402.15" y="514.60" width="8.40" height="2.30" fill="#000"/>
<rect x="402.35" y="519.40" width="8.00" height="1.80" fill="#000"/>
<rect x="410.65" y="509.00" width="13.20" height="56.00" fill="#000"/>
<rect x="412.95" y="511.30" width="8.60" height="52.70" fill="#bcbcbc"/>
<rect x="412.95" y="511.30" width="8.60" height="2.40" fill="#dadada"/>
<rect x="416.15" y="503.50" width="2.20" height="10.20" fill="#000"/>
<rect x="413.05" y="503.50" width="8.40" height="2.30" fill="#000"/>
<rect x="413.25" y="511.90" width="8.00" height="1.80" fill="#000"/>
<rect x="435.99" y="529.70" width="13.20" height="35.30" fill="#000"/>
<rect x="438.29" y="532.00" width="8.60" height="32.00" fill="#4a4a4a"/>
<rect x="438.29" y="532.00" width="8.60" height="0.50" fill="#737373"/>
<rect x="441.49" y="528.30" width="2.20" height="4.20" fill="#000"/>
<rect x="438.39" y="528.30" width="8.40" height="2.30" fill="#000"/>
<rect x="438.59" y="530.70" width="8.00" height="1.80" fill="#000"/>
<rect x="446.89" y="519.20" width="13.20" height="45.80" fill="#000"/>
<rect x="449.19" y="521.50" width="8.60" height="42.50" fill="#bcbcbc"/>
<rect x="449.19" y="521.50" width="8.60" height="4.10" fill="#dadada"/>
<rect x="452.39" y="512.40" width="2.20" height="13.20" fill="#000"/>
<rect x="449.29" y="512.40" width="8.40" height="2.30" fill="#000"/>
<rect x="449.49" y="523.80" width="8.00" height="1.80" fill="#000"/>
<rect x="472.23" y="549.00" width="13.20" height="16.00" fill="#000"/>
<rect x="474.53" y="551.30" width="8.60" height="12.70" fill="#4a4a4a"/>
<rect x="474.53" y="551.30" width="8.60" height="3.80" fill="#737373"/>
<rect x="477.73" y="543.20" width="2.20" height="11.90" fill="#000"/>
<rect x="474.63" y="543.20" width="8.40" height="2.30" fill="#000"/>
<rect x="474.83" y="553.30" width="8.00" height="1.80" fill="#000"/>
<rect x="483.13" y="551.80" width="13.20" height="13.20" fill="#000"/>
<rect x="485.43" y="554.10" width="8.60" height="9.90" fill="#bcbcbc"/>
<rect x="485.43" y="554.10" width="8.60" height="2.30" fill="#dadada"/>
<rect x="488.63" y="547.60" width="2.20" height="8.80" fill="#000"/>
<rect x="485.53" y="547.60" width="8.40" height="2.30" fill="#000"/>
<rect x="485.73" y="554.60" width="8.00" height="1.80" fill="#000"/>
<rect x="319.40" y="484.40" width="2.40" height="81.80" fill="#000"/>
<rect x="316.40" y="563.30" width="187.10" height="3.50" fill="#000"/>
<text x="296.2" y="570.5" font-size="15.5" font-weight="bold" fill="#000" textLength="8.4" lengthAdjust="spacingAndGlyphs" stroke="#000" stroke-width="0.4">0</text>
<rect x="316.40" y="547.92" width="4.00" height="2.40" fill="#000"/>
<text x="287.8" y="554.6" font-size="15.5" font-weight="bold" fill="#000" textLength="16.8" lengthAdjust="spacingAndGlyphs" stroke="#000" stroke-width="0.4">20</text>
<rect x="316.40" y="532.04" width="4.00" height="2.40" fill="#000"/>
<text x="287.8" y="538.7" font-size="15.5" font-weight="bold" fill="#000" textLength="16.8" lengthAdjust="spacingAndGlyphs" stroke="#000" stroke-width="0.4">40</text>
<rect x="316.40" y="516.16" width="4.00" height="2.40" fill="#000"/>
<text x="287.8" y="522.9" font-size="15.5" font-weight="bold" fill="#000" textLength="16.8" lengthAdjust="spacingAndGlyphs" stroke="#000" stroke-width="0.4">60</text>
<rect x="316.40" y="500.28" width="4.00" height="2.40" fill="#000"/>
<text x="287.8" y="507.0" font-size="15.5" font-weight="bold" fill="#000" textLength="16.8" lengthAdjust="spacingAndGlyphs" stroke="#000" stroke-width="0.4">80</text>
<rect x="316.40" y="484.40" width="4.00" height="2.40" fill="#000"/>
<text x="279.6" y="491.1" font-size="15.5" font-weight="bold" fill="#000" textLength="25.0" lengthAdjust="spacingAndGlyphs" stroke="#000" stroke-width="0.4">100</text>
<rect x="319.70" y="565.00" width="1.80" height="4.60" fill="#222"/>
<rect x="355.94" y="565.00" width="1.80" height="4.60" fill="#222"/>
<rect x="392.18" y="565.00" width="1.80" height="4.60" fill="#222"/>
<rect x="428.42" y="565.00" width="1.80" height="4.60" fill="#222"/>
<rect x="464.66" y="565.00" width="1.80" height="4.60" fill="#222"/>
<rect x="500.90" y="565.00" width="1.80" height="4.60" fill="#222"/>
<text x="322.0" y="587.5" font-size="12.5" font-weight="bold" fill="#000" textLength="34.4" lengthAdjust="spacingAndGlyphs" stroke="#000" stroke-width="0.6">DMSO</text>
<text x="364.7" y="587.5" font-size="12.5" font-weight="bold" fill="#000" textLength="20.6" lengthAdjust="spacingAndGlyphs" stroke="#000" stroke-width="0.6">200</text>
<text x="401.2" y="587.5" font-size="12.5" font-weight="bold" fill="#000" textLength="20.2" lengthAdjust="spacingAndGlyphs" stroke="#000" stroke-width="0.6">400</text>
<text x="437.3" y="587.5" font-size="12.5" font-weight="bold" fill="#000" textLength="20.4" lengthAdjust="spacingAndGlyphs" stroke="#000" stroke-width="0.6">600</text>
<text x="473.7" y="587.5" font-size="12.5" font-weight="bold" fill="#000" textLength="20.0" lengthAdjust="spacingAndGlyphs" stroke="#000" stroke-width="0.6">800</text>
<text x="399.0" y="480.6" font-size="14.5" font-weight="bold" fill="#000" textLength="40.5" lengthAdjust="spacingAndGlyphs">BFU-E</text>
<text x="140.0" y="615.9" font-size="14" font-weight="bold" fill="#000" textLength="68.0" lengthAdjust="spacingAndGlyphs">R723[nM]</text>
<text x="385.6" y="619.0" font-size="14" font-weight="bold" fill="#000" textLength="68.0" lengthAdjust="spacingAndGlyphs">R723[nM]</text>
<rect x="39.50" y="614.20" width="15.40" height="14.00" fill="#000"/>
<rect x="42.20" y="616.90" width="10.00" height="8.60" fill="#555"/>
<rect x="89.30" y="614.60" width="14.80" height="13.60" fill="#000"/>
<rect x="92.00" y="617.30" width="9.40" height="8.20" fill="#bcbcbc"/>
<text x="59.5" y="627.2" font-size="15" font-weight="bold" fill="#000" textLength="22.0" lengthAdjust="spacingAndGlyphs" stroke="#000" stroke-width="0.3">WT</text>
<text x="109.4" y="627.2" font-size="15" font-weight="bold" fill="#000" textLength="19.0" lengthAdjust="spacingAndGlyphs" stroke="#000" stroke-width="0.3">TG</text>
</g>
</svg>
</body></html>
